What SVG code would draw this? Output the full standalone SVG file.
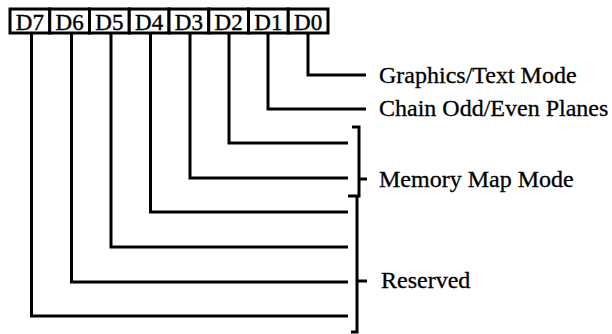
<svg xmlns="http://www.w3.org/2000/svg" width="612" height="334" viewBox="0 0 612 334">
<style>
.cell{fill:#fff;stroke:#000;stroke-width:3}
.bit{font-family:"Liberation Serif","Times New Roman",serif;font-size:23px;fill:#000;stroke:#000;stroke-width:0.4;text-anchor:middle}
.lbl{font-family:"Liberation Serif","Times New Roman",serif;font-size:24px;fill:#000;stroke:#000;stroke-width:0.3}
.wire{fill:none;stroke:#000;stroke-width:3;stroke-linejoin:miter;stroke-linecap:butt}
</style>
<rect width="612" height="334" fill="#fff"/>
<g id="register">
<g id="bit-D7"><rect class="cell" x="10" y="9" width="39.75" height="24"/><text class="bit" x="29.9" y="29.5">D7</text></g>
<g id="bit-D6"><rect class="cell" x="49.75" y="9" width="39.75" height="24"/><text class="bit" x="69.6" y="29.5">D6</text></g>
<g id="bit-D5"><rect class="cell" x="89.5" y="9" width="39.75" height="24"/><text class="bit" x="109.4" y="29.5">D5</text></g>
<g id="bit-D4"><rect class="cell" x="129.25" y="9" width="39.75" height="24"/><text class="bit" x="149.1" y="29.5">D4</text></g>
<g id="bit-D3"><rect class="cell" x="169" y="9" width="39.75" height="24"/><text class="bit" x="188.9" y="29.5">D3</text></g>
<g id="bit-D2"><rect class="cell" x="208.75" y="9" width="39.75" height="24"/><text class="bit" x="228.6" y="29.5">D2</text></g>
<g id="bit-D1"><rect class="cell" x="248.5" y="9" width="39.75" height="24"/><text class="bit" x="268.4" y="29.5">D1</text></g>
<g id="bit-D0"><rect class="cell" x="288.25" y="9" width="39.75" height="24"/><text class="bit" x="308.1" y="29.5">D0</text></g>
</g>
<g id="connectors">
<path class="wire" d="M308 33 V75 H366"/>
<path class="wire" d="M268 33 V109 H366"/>
<path class="wire" d="M229 33 V143 H348"/>
<path class="wire" d="M190 33 V178 H348"/>
<path class="wire" d="M150.5 33 V212 H348"/>
<path class="wire" d="M111 33 V247 H348"/>
<path class="wire" d="M71.5 33 V282 H348"/>
<path class="wire" d="M31.5 33 V316 H348"/>
<path class="wire" d="M352 127 H359 V196 H348"/>
<path class="wire" d="M359 179 H367"/>
<path class="wire" d="M357 196 V332 H351"/>
<path class="wire" d="M357 281 H367"/>
</g>
<g id="label-graphics"><text class="lbl" x="379" y="83">Graphics/Text Mode</text></g>
<g id="label-chain"><text class="lbl" x="379" y="116">Chain Odd/Even Planes</text></g>
<g id="label-memory"><text class="lbl" x="379" y="187">Memory Map Mode</text></g>
<g id="label-reserved"><text class="lbl" x="381" y="288">Reserved</text></g>
</svg>
